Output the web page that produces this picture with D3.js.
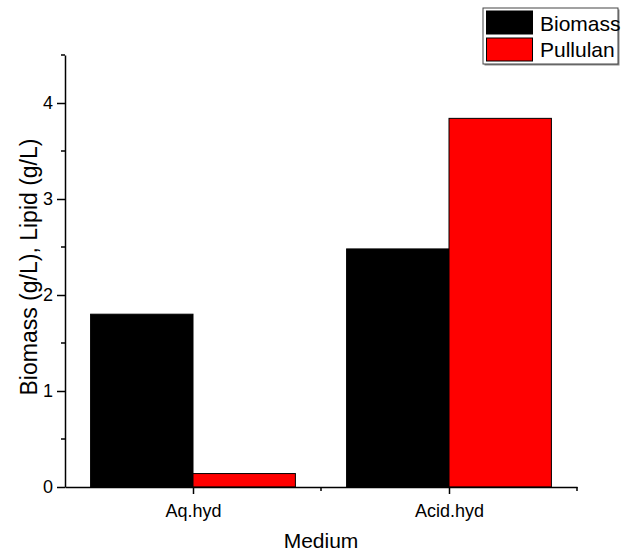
<!DOCTYPE html>
<html>
<head>
<meta charset="utf-8">
<script src="https://cdn.jsdelivr.net/npm/d3@7"></script>
<style>
  body { margin: 0; background: #fff; }
  text { font-family: "Liberation Sans", Arial, sans-serif; fill: #000; }
</style>
</head>
<body>
<svg id="chart" width="621" height="553"></svg>
<script>
// data
const categories = ["Aq.hyd", "Acid.hyd"];
const seriesNames = ["Biomass", "Pullulan"];
const biomass = [1.80, 2.48];
const pullulan = [0.14, 3.84];
const yTicks = [0, 1, 2, 3, 4];
const colors = ["#000000", "#ff0000"];

const svg = d3.select("#chart");
const plotLeft = 65, plotRight = 577, plotTop = 55, plotBottom = 487;

// categories sit at 1 and 2 on a 0.5..2.5 axis
const x = d3.scaleLinear().domain([0.5, 2.5]).range([plotLeft, plotRight]);
const y = d3.scaleLinear().domain([0, 4.5]).range([plotBottom, plotTop]);
const barW = 0.4;

const values = [biomass, pullulan];
const bars = [];
categories.forEach((c, i) => {
    values.forEach((vals, s) => {
        bars.push({ pos: i + 1, s: s, v: vals[i] });
    });
});

svg.selectAll(".bar")
    .data(bars)
    .enter().append("rect")
    .attr("class", "bar")
    .attr("x", d => x(d.pos - barW + d.s * barW))
    .attr("width", d => x(d.pos + barW) - x(d.pos))
    .attr("y", d => y(d.v))
    .attr("height", d => y(0) - y(d.v))
    .attr("fill", d => colors[d.s])
    .attr("stroke", "#000")
    .attr("stroke-width", 1);

// y axis
const yAxis = svg.append("g").attr("transform", `translate(${plotLeft},0)`)
    .call(d3.axisLeft(y).tickValues(yTicks).tickFormat(d3.format("d")).tickSize(8).tickSizeOuter(0));
yAxis.select(".domain").attr("stroke-width", 1.5);
yAxis.selectAll(".tick line").attr("stroke-width", 1.5);
yAxis.selectAll(".tick text").style("font-size", "18px").attr("x", -12);
// minor ticks
yAxis.selectAll(".minor")
    .data([0.5, 1.5, 2.5, 3.5, 4.5])
    .enter().append("line")
    .attr("class", "minor")
    .attr("x1", -4).attr("x2", 0)
    .attr("y1", d => y(d)).attr("y2", d => y(d))
    .attr("stroke", "#000").attr("stroke-width", 1.5);

// x axis
const xAxis = svg.append("g").attr("transform", `translate(0,${plotBottom})`)
    .call(d3.axisBottom(x).tickValues([1, 2]).tickFormat(d => categories[d - 1]).tickSize(7).tickSizeOuter(0));
xAxis.select(".domain").attr("stroke-width", 1.5);
xAxis.selectAll(".tick line").attr("stroke-width", 1.5);
xAxis.selectAll(".tick text").style("font-size", "18px").attr("y", 17);
xAxis.selectAll(".minor")
    .data([1.5, 2.5])
    .enter().append("line")
    .attr("class", "minor")
    .attr("y1", 0).attr("y2", 4)
    .attr("x1", d => x(d)).attr("x2", d => x(d))
    .attr("stroke", "#000").attr("stroke-width", 1.5);

// axis titles
svg.append("text")
    .attr("x", (plotLeft + plotRight) / 2).attr("y", 548)
    .attr("text-anchor", "middle")
    .style("font-size", "21px")
    .text("Medium");

svg.append("text")
    .attr("transform", "translate(37,267) rotate(-90)")
    .attr("text-anchor", "middle")
    .style("font-size", "23px")
    .text("Biomass (g/L), Lipid (g/L)");

// legend
const lg = svg.append("g").attr("transform", "translate(483,8)");
lg.append("rect").attr("x", 1.5).attr("y", 1.5).attr("width", 135).attr("height", 56)
    .attr("fill", "#888");
lg.append("rect").attr("x", 0).attr("y", 0).attr("width", 135).attr("height", 56)
    .attr("fill", "#fff").attr("stroke", "#444").attr("stroke-width", 1);
seriesNames.forEach((name, i) => {
    lg.append("rect")
        .attr("x", 3.5).attr("y", 3 + i * 27)
        .attr("width", 46).attr("height", 23)
        .attr("fill", colors[i]).attr("stroke", "#000");
    lg.append("text")
        .attr("x", 57).attr("y", 23 + i * 26)
        .style("font-size", "21px")
        .text(name);
});
</script>
</body>
</html>
